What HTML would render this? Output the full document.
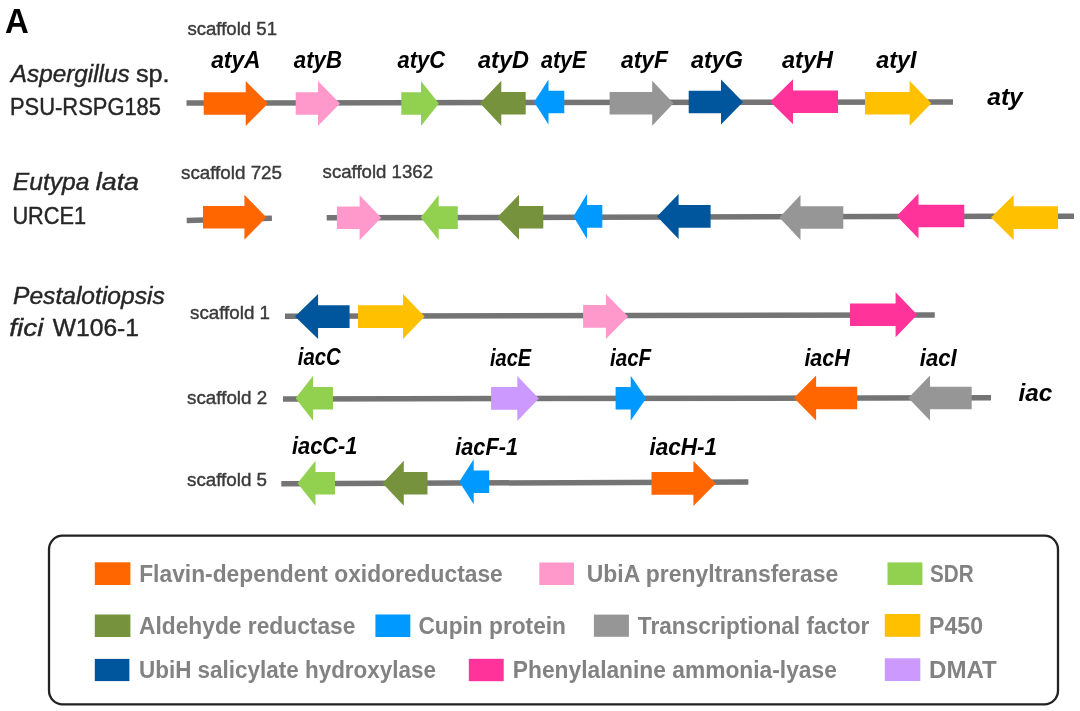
<!DOCTYPE html>
<html><head><meta charset="utf-8"><style>
html,body{margin:0;padding:0;background:#fff;}
body{width:1080px;height:711px;overflow:hidden;}
svg{display:block;font-family:"Liberation Sans",sans-serif;filter:blur(0.45px);}
</style></head><body>
<svg width="1080" height="711" viewBox="0 0 1080 711">
<rect width="1080" height="711" fill="#fff"/>
<line x1="186.5" y1="103.0" x2="953.0" y2="102.0" stroke="#747474" stroke-width="5.5"/>
<line x1="186.7" y1="220.5" x2="271.9" y2="218.2" stroke="#747474" stroke-width="5.5"/>
<line x1="326.7" y1="217.8" x2="1074.0" y2="216.2" stroke="#747474" stroke-width="5.5"/>
<line x1="285.0" y1="316.3" x2="934.8" y2="315.0" stroke="#747474" stroke-width="5.5"/>
<line x1="283.0" y1="399.0" x2="991.0" y2="397.8" stroke="#747474" stroke-width="5.5"/>
<line x1="281.3" y1="483.7" x2="748.4" y2="482.0" stroke="#747474" stroke-width="5.5"/>
<polygon fill="#ff6600" points="203.7,92.2 245.7,92.2 245.7,81.0 268.0,103.5 245.7,126.0 245.7,114.8 203.7,114.8"/>
<polygon fill="#ff99cc" points="295.7,92.2 318.0,92.2 318.0,81.0 340.0,103.5 318.0,126.0 318.0,114.8 295.7,114.8"/>
<polygon fill="#92d050" points="401.3,92.2 421.0,92.2 421.0,81.0 438.9,103.5 421.0,126.0 421.0,114.8 401.3,114.8"/>
<polygon fill="#76923c" points="525.7,92.0 501.3,92.0 501.3,80.8 480.0,103.3 501.3,125.8 501.3,114.6 525.7,114.6"/>
<polygon fill="#0099ff" points="564.3,90.7 548.5,90.7 548.5,79.5 534.0,102.0 548.5,124.5 548.5,113.3 564.3,113.3"/>
<polygon fill="#969696" points="609.6,92.0 652.2,92.0 652.2,80.8 673.5,103.3 652.2,125.8 652.2,114.6 609.6,114.6"/>
<polygon fill="#00569d" points="688.7,90.7 721.0,90.7 721.0,79.5 743.0,102.0 721.0,124.5 721.0,113.3 688.7,113.3"/>
<polygon fill="#ff3399" points="838.0,90.5 793.0,90.5 793.0,79.3 770.2,101.8 793.0,124.3 793.0,113.1 838.0,113.1"/>
<polygon fill="#ffc000" points="865.0,92.0 909.6,92.0 909.6,80.8 931.3,103.3 909.6,125.8 909.6,114.6 865.0,114.6"/>
<polygon fill="#ff6600" points="203.0,206.0 244.4,206.0 244.4,194.8 266.3,217.3 244.4,239.8 244.4,228.6 203.0,228.6"/>
<polygon fill="#ff99cc" points="336.9,206.5 359.6,206.5 359.6,195.3 381.3,217.8 359.6,240.3 359.6,229.1 336.9,229.1"/>
<polygon fill="#92d050" points="457.8,206.3 438.7,206.3 438.7,195.1 420.7,217.6 438.7,240.1 438.7,228.9 457.8,228.9"/>
<polygon fill="#76923c" points="543.3,205.9 519.0,205.9 519.0,194.7 497.3,217.2 519.0,239.7 519.0,228.5 543.3,228.5"/>
<polygon fill="#0099ff" points="602.3,205.1 587.0,205.1 587.0,193.9 573.4,216.4 587.0,238.9 587.0,227.7 602.3,227.7"/>
<polygon fill="#00569d" points="710.6,205.1 678.6,205.1 678.6,193.9 657.0,216.4 678.6,238.9 678.6,227.7 710.6,227.7"/>
<polygon fill="#969696" points="843.3,206.2 800.5,206.2 800.5,195.0 779.4,217.5 800.5,240.0 800.5,228.8 843.3,228.8"/>
<polygon fill="#ff3399" points="964.3,204.7 918.5,204.7 918.5,193.5 896.7,216.0 918.5,238.5 918.5,227.3 964.3,227.3"/>
<polygon fill="#ffc000" points="1058.0,206.3 1013.7,206.3 1013.7,195.1 991.0,217.6 1013.7,240.1 1013.7,228.9 1058.0,228.9"/>
<polygon fill="#00569d" points="349.6,305.3 318.1,305.3 318.1,294.1 295.0,316.6 318.1,339.1 318.1,327.9 349.6,327.9"/>
<polygon fill="#ffc000" points="358.0,305.3 403.0,305.3 403.0,294.1 424.6,316.6 403.0,339.1 403.0,327.9 358.0,327.9"/>
<polygon fill="#ff99cc" points="583.1,305.1 605.9,305.1 605.9,293.9 628.1,316.4 605.9,338.9 605.9,327.7 583.1,327.7"/>
<polygon fill="#ff3399" points="850.0,303.5 895.6,303.5 895.6,292.3 917.2,314.8 895.6,337.3 895.6,326.1 850.0,326.1"/>
<polygon fill="#92d050" points="333.0,387.0 313.1,387.0 313.1,375.8 295.6,398.3 313.1,420.8 313.1,409.6 333.0,409.6"/>
<polygon fill="#cc99ff" points="491.1,387.1 517.3,387.1 517.3,375.9 538.9,398.4 517.3,420.9 517.3,409.7 491.1,409.7"/>
<polygon fill="#0099ff" points="615.6,387.0 630.7,387.0 630.7,375.8 646.2,398.3 630.7,420.8 630.7,409.6 615.6,409.6"/>
<polygon fill="#ff6600" points="857.2,386.7 816.1,386.7 816.1,375.5 793.9,398.0 816.1,420.5 816.1,409.3 857.2,409.3"/>
<polygon fill="#969696" points="971.7,386.7 930.0,386.7 930.0,375.5 908.3,398.0 930.0,420.5 930.0,409.3 971.7,409.3"/>
<polygon fill="#92d050" points="335.0,472.0 315.5,472.0 315.5,460.8 297.5,483.3 315.5,505.8 315.5,494.6 335.0,494.6"/>
<polygon fill="#76923c" points="427.5,471.9 403.8,471.9 403.8,460.7 382.5,483.2 403.8,505.7 403.8,494.5 427.5,494.5"/>
<polygon fill="#0099ff" points="489.2,470.5 473.7,470.5 473.7,459.3 459.3,481.8 473.7,504.3 473.7,493.1 489.2,493.1"/>
<polygon fill="#ff6600" points="651.5,472.1 693.4,472.1 693.4,460.9 715.7,483.4 693.4,505.9 693.4,494.7 651.5,494.7"/>
<rect x="49" y="535.6" width="1009" height="168.8" rx="13.5" ry="14" fill="none" stroke="#222" stroke-width="2.3"/>
<rect x="94.8" y="562.3" width="35.6" height="22.7" fill="#ff6600"/>
<rect x="539.3" y="562.5" width="34.7" height="22.5" fill="#ff99cc"/>
<rect x="887.5" y="562.4" width="34.9" height="22.6" fill="#92d050"/>
<rect x="94.8" y="614.5" width="35.6" height="22.5" fill="#76923c"/>
<rect x="375.4" y="614.5" width="34.9" height="22.5" fill="#0099ff"/>
<rect x="593.9" y="614.6" width="35.0" height="22.2" fill="#969696"/>
<rect x="884.8" y="614.0" width="35.5" height="22.8" fill="#ffc000"/>
<rect x="94.8" y="658.9" width="34.6" height="22.2" fill="#00569d"/>
<rect x="468.8" y="658.8" width="34.9" height="22.4" fill="#ff3399"/>
<rect x="884.8" y="658.3" width="35.5" height="22.7" fill="#cc99ff"/>
<text x="5.00" y="33.0" font-size="35.0" font-weight="bold" font-style="normal" fill="#000" textLength="23.80" lengthAdjust="spacingAndGlyphs">A</text>
<text x="187.40" y="34.7" font-size="18.0" font-weight="normal" font-style="normal" fill="#3a3a3a" stroke="#3a3a3a" stroke-width="0.4" textLength="89.60" lengthAdjust="spacingAndGlyphs">scaffold 51</text>
<text x="10.80" y="81.5" font-size="23.0" font-weight="normal" font-style="italic" fill="#262626" stroke="#262626" stroke-width="0.4" textLength="118.80" lengthAdjust="spacingAndGlyphs">Aspergillus</text>
<text x="136.00" y="81.5" font-size="23.0" font-weight="normal" font-style="normal" fill="#262626" stroke="#262626" stroke-width="0.4" textLength="33.60" lengthAdjust="spacingAndGlyphs">sp.</text>
<text x="10.00" y="114.8" font-size="23.0" font-weight="normal" font-style="normal" fill="#262626" stroke="#262626" stroke-width="0.4" textLength="151.00" lengthAdjust="spacingAndGlyphs">PSU-RSPG185</text>
<text x="211.20" y="67.6" font-size="23.0" font-weight="bold" font-style="italic" fill="#000" textLength="49.40" lengthAdjust="spacingAndGlyphs">atyA</text>
<text x="293.80" y="67.6" font-size="23.0" font-weight="bold" font-style="italic" fill="#000" textLength="48.20" lengthAdjust="spacingAndGlyphs">atyB</text>
<text x="397.60" y="67.6" font-size="23.0" font-weight="bold" font-style="italic" fill="#000" textLength="47.60" lengthAdjust="spacingAndGlyphs">atyC</text>
<text x="478.00" y="67.6" font-size="23.0" font-weight="bold" font-style="italic" fill="#000" textLength="51.00" lengthAdjust="spacingAndGlyphs">atyD</text>
<text x="541.00" y="67.6" font-size="23.0" font-weight="bold" font-style="italic" fill="#000" textLength="45.40" lengthAdjust="spacingAndGlyphs">atyE</text>
<text x="621.00" y="67.6" font-size="23.0" font-weight="bold" font-style="italic" fill="#000" textLength="47.00" lengthAdjust="spacingAndGlyphs">atyF</text>
<text x="691.00" y="67.6" font-size="23.0" font-weight="bold" font-style="italic" fill="#000" textLength="52.00" lengthAdjust="spacingAndGlyphs">atyG</text>
<text x="782.00" y="67.6" font-size="23.0" font-weight="bold" font-style="italic" fill="#000" textLength="51.00" lengthAdjust="spacingAndGlyphs">atyH</text>
<text x="876.20" y="67.6" font-size="23.0" font-weight="bold" font-style="italic" fill="#000" textLength="40.20" lengthAdjust="spacingAndGlyphs">atyI</text>
<text x="987.20" y="105.4" font-size="24.0" font-weight="bold" font-style="italic" fill="#000" textLength="35.60" lengthAdjust="spacingAndGlyphs">aty</text>
<text x="12.80" y="190.4" font-size="23.0" font-weight="normal" font-style="italic" fill="#262626" stroke="#262626" stroke-width="0.4" textLength="76.60" lengthAdjust="spacingAndGlyphs">Eutypa</text>
<text x="95.80" y="190.4" font-size="23.0" font-weight="normal" font-style="italic" fill="#262626" stroke="#262626" stroke-width="0.4" textLength="43.20" lengthAdjust="spacingAndGlyphs">lata</text>
<text x="12.40" y="223.7" font-size="23.0" font-weight="normal" font-style="normal" fill="#262626" stroke="#262626" stroke-width="0.4" textLength="73.80" lengthAdjust="spacingAndGlyphs">URCE1</text>
<text x="181.00" y="179.3" font-size="18.0" font-weight="normal" font-style="normal" fill="#3a3a3a" stroke="#3a3a3a" stroke-width="0.4" textLength="101.00" lengthAdjust="spacingAndGlyphs">scaffold 725</text>
<text x="322.60" y="178.2" font-size="18.0" font-weight="normal" font-style="normal" fill="#3a3a3a" stroke="#3a3a3a" stroke-width="0.4" textLength="110.40" lengthAdjust="spacingAndGlyphs">scaffold 1362</text>
<text x="13.00" y="304.3" font-size="23.0" font-weight="normal" font-style="italic" fill="#262626" stroke="#262626" stroke-width="0.4" textLength="151.80" lengthAdjust="spacingAndGlyphs">Pestalotiopsis</text>
<text x="9.20" y="336.3" font-size="23.0" font-weight="normal" font-style="italic" fill="#262626" stroke="#262626" stroke-width="0.4" textLength="34.20" lengthAdjust="spacingAndGlyphs">fici</text>
<text x="52.80" y="336.3" font-size="23.0" font-weight="normal" font-style="normal" fill="#262626" stroke="#262626" stroke-width="0.4" textLength="86.20" lengthAdjust="spacingAndGlyphs">W106-1</text>
<text x="190.00" y="318.8" font-size="18.0" font-weight="normal" font-style="normal" fill="#3a3a3a" stroke="#3a3a3a" stroke-width="0.4" textLength="80.00" lengthAdjust="spacingAndGlyphs">scaffold 1</text>
<text x="187.00" y="404.4" font-size="18.0" font-weight="normal" font-style="normal" fill="#3a3a3a" stroke="#3a3a3a" stroke-width="0.4" textLength="80.20" lengthAdjust="spacingAndGlyphs">scaffold 2</text>
<text x="187.00" y="486.2" font-size="18.0" font-weight="normal" font-style="normal" fill="#3a3a3a" stroke="#3a3a3a" stroke-width="0.4" textLength="80.00" lengthAdjust="spacingAndGlyphs">scaffold 5</text>
<text x="297.80" y="365.0" font-size="23.0" font-weight="bold" font-style="italic" fill="#000" textLength="43.00" lengthAdjust="spacingAndGlyphs">iacC</text>
<text x="490.00" y="365.6" font-size="23.0" font-weight="bold" font-style="italic" fill="#000" textLength="41.20" lengthAdjust="spacingAndGlyphs">iacE</text>
<text x="610.00" y="365.6" font-size="23.0" font-weight="bold" font-style="italic" fill="#000" textLength="41.20" lengthAdjust="spacingAndGlyphs">iacF</text>
<text x="804.40" y="365.6" font-size="23.0" font-weight="bold" font-style="italic" fill="#000" textLength="45.40" lengthAdjust="spacingAndGlyphs">iacH</text>
<text x="919.80" y="365.6" font-size="23.0" font-weight="bold" font-style="italic" fill="#000" textLength="37.00" lengthAdjust="spacingAndGlyphs">iacI</text>
<text x="292.00" y="453.9" font-size="23.0" font-weight="bold" font-style="italic" fill="#000" textLength="65.50" lengthAdjust="spacingAndGlyphs">iacC-1</text>
<text x="455.20" y="454.6" font-size="23.0" font-weight="bold" font-style="italic" fill="#000" textLength="62.80" lengthAdjust="spacingAndGlyphs">iacF-1</text>
<text x="649.40" y="454.6" font-size="23.0" font-weight="bold" font-style="italic" fill="#000" textLength="67.80" lengthAdjust="spacingAndGlyphs">iacH-1</text>
<text x="1018.40" y="400.6" font-size="24.0" font-weight="bold" font-style="italic" fill="#000" textLength="33.80" lengthAdjust="spacingAndGlyphs">iac</text>
<text x="139.20" y="582.0" font-size="23.0" font-weight="bold" font-style="normal" fill="#828282" textLength="363.60" lengthAdjust="spacingAndGlyphs">Flavin-dependent oxidoreductase</text>
<text x="586.80" y="582.0" font-size="23.0" font-weight="bold" font-style="normal" fill="#828282" textLength="251.40" lengthAdjust="spacingAndGlyphs">UbiA prenyltransferase</text>
<text x="930.00" y="582.0" font-size="23.0" font-weight="bold" font-style="normal" fill="#828282" textLength="43.60" lengthAdjust="spacingAndGlyphs">SDR</text>
<text x="139.00" y="634.3" font-size="23.0" font-weight="bold" font-style="normal" fill="#828282" textLength="216.40" lengthAdjust="spacingAndGlyphs">Aldehyde reductase</text>
<text x="418.40" y="634.3" font-size="23.0" font-weight="bold" font-style="normal" fill="#828282" textLength="147.60" lengthAdjust="spacingAndGlyphs">Cupin protein</text>
<text x="637.80" y="634.3" font-size="23.0" font-weight="bold" font-style="normal" fill="#828282" textLength="231.60" lengthAdjust="spacingAndGlyphs">Transcriptional factor</text>
<text x="929.00" y="634.3" font-size="23.0" font-weight="bold" font-style="normal" fill="#828282" textLength="54.00" lengthAdjust="spacingAndGlyphs">P450</text>
<text x="139.00" y="677.8" font-size="23.0" font-weight="bold" font-style="normal" fill="#828282" textLength="297.00" lengthAdjust="spacingAndGlyphs">UbiH salicylate hydroxylase</text>
<text x="512.80" y="677.8" font-size="23.0" font-weight="bold" font-style="normal" fill="#828282" textLength="324.00" lengthAdjust="spacingAndGlyphs">Phenylalanine ammonia-lyase</text>
<text x="929.00" y="677.8" font-size="23.0" font-weight="bold" font-style="normal" fill="#828282" textLength="67.80" lengthAdjust="spacingAndGlyphs">DMAT</text>
</svg></body></html>
